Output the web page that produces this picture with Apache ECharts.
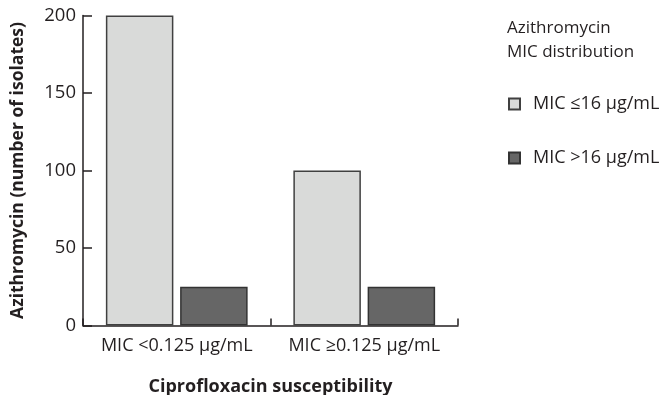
<!DOCTYPE html>
<html>
<head>
<meta charset="utf-8">
<script src="https://cdn.jsdelivr.net/npm/echarts@6/dist/echarts.min.js"></script>
<style>
  html, body { margin: 0; padding: 0; background: #fff; }
  #chart { width: 663px; height: 395px; }
</style>
</head>
<body>
<div id="chart"></div>
<script>
// Isolate counts by ciprofloxacin susceptibility, split by azithromycin MIC
const categories = ['MIC <0.125 μg/mL', 'MIC ≥0.125 μg/mL'];
const seriesNames = ['MIC ≤16 μg/mL', 'MIC >16 μg/mL'];
const lowMic = [200, 100];
const highMic = [25, 25];
const yTicks = [0, 50, 100, 150, 200];

const FONT = 'Open Sans';
const INK = '#231f20';

const chart = echarts.init(document.getElementById('chart'), null, { renderer: 'canvas' });

chart.setOption({
  animation: false,
  backgroundColor: '#ffffff',
  textStyle: { fontFamily: FONT, color: INK },
  title: {
    text: 'Azithromycin\nMIC distribution',
    left: 502,
    top: 11,
    textStyle: { fontFamily: FONT, fontSize: 17, fontWeight: 'normal', color: INK, lineHeight: 24 }
  },
  legend: {
    orient: 'vertical',
    left: 503,
    top: 90,
    itemWidth: 11,
    itemHeight: 11,
    itemGap: 36,
    icon: 'rect',
    textStyle: { fontFamily: FONT, fontSize: 18, color: INK, padding: [0, 0, 0, 8] },
    data: seriesNames
  },
  grid: { left: 83, right: 205, top: 15.5, bottom: 69.5, outerBoundsMode: 'none' },
  xAxis: {
    type: 'category',
    data: categories,
    name: 'Ciprofloxacin susceptibility',
    nameLocation: 'middle',
    nameGap: 52,
    nameTextStyle: { fontFamily: FONT, fontSize: 18, fontWeight: 'bold', color: INK },
    axisLine: { lineStyle: { color: INK, width: 1.5 } },
    axisTick: { show: true, inside: true, interval: 0, length: 7, lineStyle: { color: INK, width: 1.5 } },
    axisLabel: { fontFamily: FONT, fontSize: 18, color: INK, margin: 11, interval: 0, hideOverlap: false }
  },
  yAxis: {
    type: 'value',
    min: yTicks[0],
    max: yTicks[yTicks.length - 1],
    interval: yTicks[1] - yTicks[0],
    name: 'Azithromycin (number of isolates)',
    nameLocation: 'middle',
    nameGap: 56,
    nameTextStyle: { fontFamily: FONT, fontSize: 17.5, fontWeight: 'bold', color: INK },
    axisLine: { show: true, lineStyle: { color: INK, width: 1.5 } },
    axisTick: { show: true, inside: true, length: 9, lineStyle: { color: INK, width: 1.5 } },
    axisLabel: { fontFamily: FONT, fontSize: 18.5, color: INK, margin: 7 },
    splitLine: { show: false }
  },
  series: [
    {
      name: seriesNames[0],
      type: 'bar',
      data: lowMic,
      barWidth: '36%',
      barGap: '10%',
      itemStyle: { color: '#d9dad9', borderColor: '#404040', borderWidth: 1.5 }
    },
    {
      name: seriesNames[1],
      type: 'bar',
      data: highMic,
      barWidth: '36%',
      itemStyle: { color: '#666666', borderColor: '#333333', borderWidth: 1.5 }
    }
  ]
});
</script>
</body>
</html>
